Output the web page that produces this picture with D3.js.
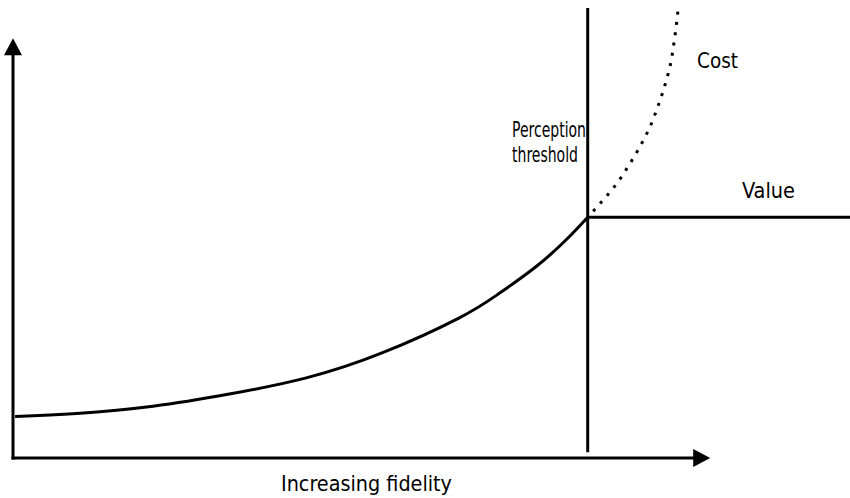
<!DOCTYPE html>
<html>
<head>
<meta charset="utf-8">
<script src="https://cdn.jsdelivr.net/npm/d3@7/dist/d3.min.js"></script>
<style>
  html, body { margin: 0; padding: 0; background: #fff; }
  svg { display: block; }
  text { font-family: "Liberation Sans Narrow", "DejaVu Sans Condensed", "Liberation Sans", Arial, sans-serif; fill: #000; }
</style>
</head>
<body>
<svg id="chart" width="850" height="498"></svg>
<script>
// ---- Data (abstract units) ----
const valueFidelity = [0.03, 0.91, 2.0, 3.09, 4.19, 5.28, 6.37, 6.92, 7.47, 7.91, 8.21];
const valueLevels   = [0.92, 0.99, 1.15, 1.42, 1.78, 2.34, 3.11, 3.63, 4.25, 4.86, 5.35];
const plateauFidelity = [8.21, 11.96];
const plateauLevels   = [5.35, 5.35];
const costFidelity = [8.21, 8.43, 8.63, 8.80, 8.96, 9.10, 9.21, 9.31, 9.39, 9.44, 9.48, 9.50];
const costLevels   = [5.35, 5.73, 6.11, 6.51, 6.93, 7.36, 7.80, 8.27, 8.73, 9.20, 9.67, 9.95];
const thresholdFidelity = 8.21;
const thresholdRange = [0.13, 10];
const axisExtent = { x: 9.96, y: 9.33 };
const labels = {
  xAxis: "Increasing fidelity",
  cost: "Cost",
  value: "Value",
  threshold: ["Perception", "threshold"]
};

// ---- Scales ----
const svg = d3.select("#chart");
const x = d3.scaleLinear().domain([0, 10]).range([13, 713]);
const y = d3.scaleLinear().domain([0, 10]).range([458, 8]);

const line = d3.line().x(d => x(d[0])).y(d => y(d[1]));
const curve = d3.line().x(d => x(d[0])).y(d => y(d[1])).curve(d3.curveNatural);
const costCurve = d3.line().x(d => x(d[0])).y(d => y(d[1])).curve(d3.curveMonotoneY);

// ---- Axes (arrows) ----
const ah = 17, aw = 9;
svg.append("line")
  .attr("x1", x(0)).attr("y1", y(0) + 1.5)
  .attr("x2", x(0)).attr("y2", y(axisExtent.y) + ah - 1)
  .attr("stroke", "#000").attr("stroke-width", 3);
svg.append("path")
  .attr("d", `M${x(0)},${y(axisExtent.y)} L${x(0) - aw},${y(axisExtent.y) + ah} L${x(0) + aw},${y(axisExtent.y) + ah} Z`)
  .attr("fill", "#000");
svg.append("line")
  .attr("x1", x(0) - 1.5).attr("y1", y(0))
  .attr("x2", x(axisExtent.x) - ah + 1).attr("y2", y(0))
  .attr("stroke", "#000").attr("stroke-width", 3);
svg.append("path")
  .attr("d", `M${x(axisExtent.x)},${y(0)} L${x(axisExtent.x) - ah},${y(0) - aw} L${x(axisExtent.x) - ah},${y(0) + aw} Z`)
  .attr("fill", "#000");

// ---- Perception threshold line ----
svg.append("line")
  .attr("x1", x(thresholdFidelity)).attr("x2", x(thresholdFidelity))
  .attr("y1", y(thresholdRange[0])).attr("y2", y(thresholdRange[1]))
  .attr("stroke", "#000").attr("stroke-width", 3);

// ---- Value curve ----
svg.append("path")
  .datum(d3.zip(valueFidelity, valueLevels))
  .attr("d", curve)
  .attr("fill", "none").attr("stroke", "#000").attr("stroke-width", 3)
  .attr("stroke-linejoin", "round");
svg.append("path")
  .datum(d3.zip(plateauFidelity, plateauLevels))
  .attr("d", line)
  .attr("fill", "none").attr("stroke", "#000").attr("stroke-width", 3);

// ---- Cost curve (dotted) ----
svg.append("path")
  .datum(d3.zip(costFidelity, costLevels))
  .attr("d", costCurve)
  .attr("fill", "none").attr("stroke", "#000").attr("stroke-width", 3)
  .attr("stroke-dasharray", "3 7.4")
  .attr("stroke-dashoffset", -8);

// ---- Labels ----
function label(txt, px, py, len, anchor) {
  svg.append("text")
    .attr("x", px).attr("y", py)
    .attr("font-size", 21)
    .attr("text-anchor", anchor || "start")
    .attr("textLength", len)
    .attr("lengthAdjust", "spacingAndGlyphs")
    .text(txt);
}
label(labels.cost, 697, 68, 41);
label(labels.value, 742, 198, 53);
label(labels.threshold[0], 512, 137, 74);
label(labels.threshold[1], 512, 162, 66);
label(labels.xAxis, 281, 491, 171);
</script>
</body>
</html>
